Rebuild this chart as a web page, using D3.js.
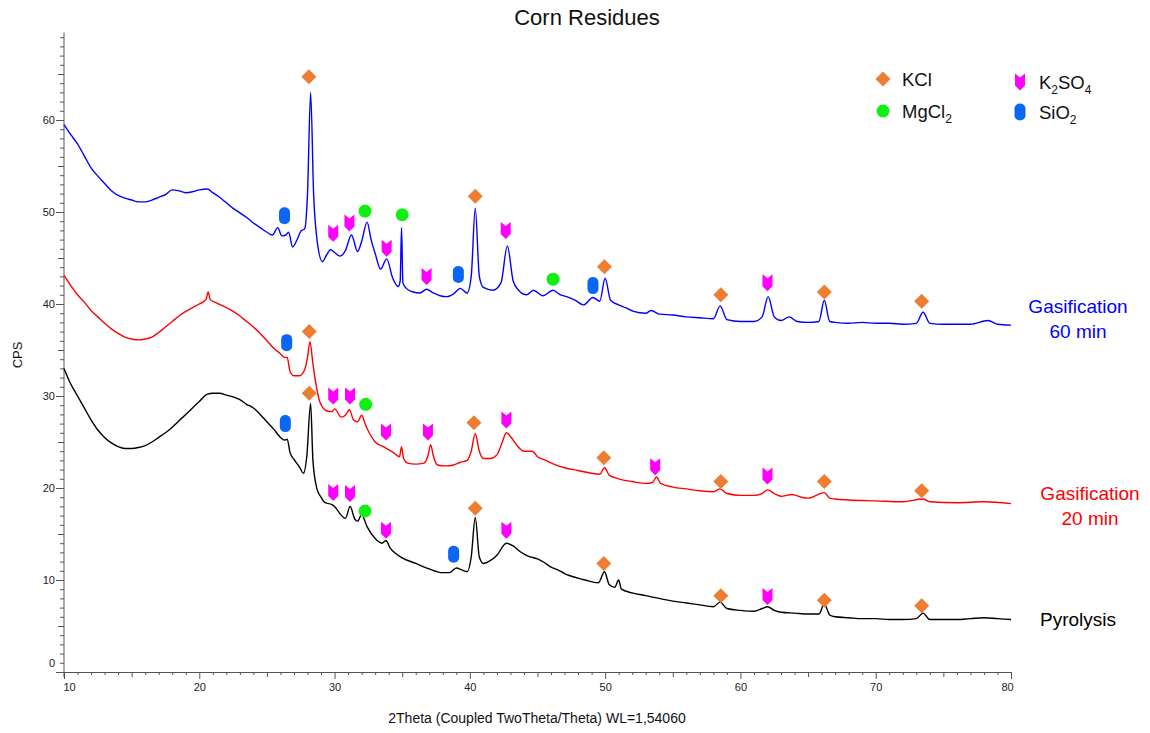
<!DOCTYPE html>
<head>
<meta charset="utf-8">
<script src="https://cdn.jsdelivr.net/npm/d3@7"></script>
<style>
body { margin: 0; background: #fff; font-family: "Liberation Sans", Arial, sans-serif; }
svg text { font-family: "Liberation Sans", Arial, sans-serif; }
.axis path, .axis line { stroke: #555; }
.axis text { font-size: 11px; fill: #222; }
</style>
</head>
<body>
<svg width="1150" height="733"></svg>
<script>
// 2theta (deg) vs CPS
var gas60 = [[10,59.5],[10.5,58.4],[11,57.4],[11.5,56.1],[12,54.8],[12.5,53.9],[13,53.1],[13.5,52.3],[14,51.8],[14.5,51.5],[15,51.3],[15.5,51.1],[16,51.1],[16.5,51.3],[17,51.6],[17.5,51.9],[18,52.4],[18.5,52.3],[19,52.1],[19.5,52.2],[20,52.4],[20.6,52.5],[21,52.1],[21.5,51.6],[22,51.0],[22.5,50.4],[23,49.9],[23.5,49.4],[24,48.8],[24.5,48.3],[25,47.8],[25.4,47.5],[25.8,48.3],[26.1,47.4],[26.4,47.5],[26.6,47.8],[26.9,46.2],[27.2,46.9],[27.5,47.9],[27.8,48.2],[28.0,52],[28.23,63.0],[28.45,52],[28.7,47.0],[29.1,44.6],[29.4,45.3],[29.7,45.9],[30.0,45.6],[30.4,45.2],[30.8,45.8],[31.25,47.5],[31.7,45.7],[32.0,46.8],[32.4,48.9],[32.7,47.0],[33.0,45.5],[33.4,43.8],[33.85,44.9],[34.3,42.8],[34.7,41.9],[34.85,42.5],[34.95,48.3],[35.05,42.3],[35.3,41.7],[35.8,41.3],[36.3,41.2],[36.8,41.6],[37.3,41.2],[37.8,40.9],[38.3,40.8],[38.8,41.1],[39.3,41.7],[39.8,41.2],[40.1,43],[40.4,50.4],[40.7,43],[41.0,41.8],[41.7,41.5],[42.3,42.3],[42.77,46.3],[43.2,42.5],[43.6,41.5],[44.2,41.0],[44.7,41.5],[45.4,40.9],[46.15,41.5],[46.7,41.0],[47.15,40.8],[47.8,40.4],[48.4,39.9],[49.1,40.7],[49.6,40.3],[50.0,42.8],[50.4,40.4],[51.0,39.9],[51.5,39.6],[52.1,39.2],[53.0,39.0],[53.4,39.3],[54,38.9],[55,38.8],[56,38.6],[57,38.5],[58,38.4],[58.5,39.8],[59,38.3],[60,38.1],[61,38.1],[61.6,38.6],[62.05,40.8],[62.5,38.6],[63,38.2],[63.6,38.6],[64.2,38.1],[65,38.0],[65.8,38.1],[66.2,40.4],[66.6,38.1],[67,38.0],[68,37.9],[69,38.0],[70,37.9],[71,37.9],[72,37.8],[73,37.9],[73.5,39.1],[74,37.9],[75,37.8],[76,37.8],[77,37.8],[78.3,38.2],[79,37.8],[80,37.7]];

var gas20 = [[10,43.1],[10.5,42.0],[11,41.0],[11.5,40.2],[12,39.3],[12.5,38.6],[13,37.9],[13.5,37.3],[14,36.8],[14.5,36.4],[15,36.2],[15.5,36.1],[16,36.2],[16.5,36.4],[17,36.9],[17.5,37.5],[18,38.1],[18.5,38.7],[19,39.2],[19.5,39.6],[20,40.0],[20.5,40.5],[20.66,41.3],[20.8,40.5],[21.3,40.1],[22,39.6],[22.5,39.2],[23,38.7],[23.5,38.1],[24,37.5],[24.5,36.8],[25,36.0],[25.5,35.2],[26,34.6],[26.3,34.2],[26.5,34.2],[26.7,32.7],[27.0,32.2],[27.4,32.2],[27.8,32.9],[28.0,34.2],[28.18,35.9],[28.4,33.5],[28.6,31.5],[28.9,29.4],[29.4,28.4],[29.8,28.3],[30.0,28.6],[30.5,27.7],[30.8,27.9],[31.1,28.5],[31.4,27.4],[31.7,27.2],[32.0,27.9],[32.3,26.8],[32.6,25.9],[33.0,25.0],[33.6,24.5],[34.3,23.9],[34.8,23.4],[34.95,24.5],[35.1,23.2],[35.4,22.7],[36.0,22.6],[36.6,22.7],[36.9,23.5],[37.1,24.7],[37.3,23.5],[37.6,22.5],[38.2,22.4],[38.8,22.5],[39.3,22.8],[39.8,23.0],[40.1,24],[40.4,25.9],[40.7,24.0],[41.0,23.2],[41.5,23.2],[42.0,23.6],[42.4,25.0],[42.7,26.0],[43.0,25.6],[43.5,24.6],[44.0,24.0],[44.6,24.0],[45.0,23.4],[45.6,23.0],[46.2,22.6],[47.0,22.2],[48.0,21.9],[49.0,21.6],[49.6,21.5],[49.95,22.2],[50.3,21.4],[51,21.0],[52,20.7],[53,20.5],[53.5,20.6],[53.8,21.2],[54.1,20.5],[55,20.1],[56,19.9],[57,19.7],[58,19.6],[58.5,19.9],[59,19.4],[60,19.2],[61,19.2],[61.6,19.4],[62.0,19.8],[62.5,19.4],[63,19.1],[63.8,19.3],[64.5,19.0],[65,18.9],[66.2,19.5],[66.6,18.9],[67,18.8],[68,18.7],[70,18.6],[72,18.5],[73.5,18.8],[74,18.5],[76,18.4],[78,18.5],[80,18.3]];

var pyro = [[10,33.0],[10.5,31.3],[11,30.0],[11.5,28.7],[12,27.4],[12.5,26.3],[13,25.5],[13.5,24.9],[14,24.5],[14.5,24.3],[15,24.3],[15.5,24.4],[16,24.6],[16.5,25.0],[17,25.5],[17.5,26.0],[18,26.6],[18.5,27.3],[19,28.0],[19.5,28.7],[20,29.4],[20.6,30.2],[21,30.3],[21.5,30.3],[22,30.1],[22.5,29.9],[23,29.6],[23.5,29.1],[24,28.7],[24.5,28.0],[25,27.2],[25.5,26.4],[26,25.5],[26.3,25.2],[26.5,25.3],[26.7,23.9],[27.0,23.1],[27.4,22.3],[27.7,21.6],[27.95,23.5],[28.23,29.2],[28.4,23],[28.7,19.9],[29.0,19.0],[29.3,18.4],[29.8,18.2],[30.0,18.0],[30.35,17.3],[30.8,16.7],[31.15,18.0],[31.5,16.6],[31.7,16.4],[32.0,17.1],[32.4,15.8],[33.0,14.5],[33.5,14.0],[33.8,14.3],[34.1,13.5],[34.5,12.9],[35,12.4],[36,11.8],[37,11.2],[38,10.8],[38.5,10.8],[39.0,11.3],[39.4,11.1],[39.8,10.9],[40.1,12.5],[40.4,16.8],[40.7,12.5],[41.0,11.8],[41.5,12.1],[42.0,12.7],[42.7,14.0],[43.2,13.7],[43.7,13.1],[44.3,12.6],[45,12.3],[45.5,11.9],[46,11.4],[46.5,11.1],[47,10.7],[48,10.2],[48.5,10.0],[49.5,9.7],[49.95,10.9],[50.3,9.5],[50.7,9.2],[51.0,10.0],[51.2,9.0],[52,8.6],[53,8.3],[54,8.0],[55,7.7],[56,7.5],[57,7.3],[58,7.1],[58.5,7.6],[59,6.9],[60,6.7],[61,6.6],[61.6,6.9],[62.0,7.1],[62.5,6.7],[63,6.5],[64,6.4],[65,6.3],[65.8,6.3],[66.2,7.4],[66.6,6.2],[67,6.0],[68,5.9],[69,5.8],[70,5.8],[71,5.7],[72,5.7],[73,5.8],[73.5,6.4],[74,5.7],[75,5.7],[76,5.7],[77,5.8],[78,5.9],[79,5.8],[80,5.7]];

// phase markers [2theta, cps]
var kclMarks = [[28.1,64.7],[40.4,51.7],[49.95,44.05],[58.55,41.0],[66.2,41.3],[73.4,40.3],
                [28.13,37.0],[40.3,27.1],[49.9,23.3],[58.55,20.7],[66.2,20.7],[73.4,19.7],
                [28.13,30.3],[40.4,17.8],[49.9,11.8],[58.55,8.3],[66.2,7.8],[73.4,7.2]];
var k2so4Marks = [[29.9,47.7],[31.1,48.8],[33.85,46.05],[36.8,43.0],[42.65,48.0],[62.0,42.3],
                  [29.9,30.0],[31.14,30.0],[33.8,26.1],[36.9,26.1],[42.7,27.4],[53.7,22.3],[62.0,21.3],
                  [29.9,19.5],[31.14,19.4],[33.8,15.4],[42.7,15.4],[62.0,8.2]];
var mgcl2Marks = [[32.25,50.1],[35.0,49.7],[46.15,42.7],[32.3,29.1],[32.25,17.5]];
var sio2Marks = [[26.3,49.6],[39.15,43.2],[49.1,42.0],[26.46,35.8],[26.36,27.0],[38.8,12.8]];

var svg = d3.select("svg");

var x = d3.scaleLinear().domain([10, 80]).range([64, 1011]);
var y = d3.scaleLinear().domain([0, 69.5]).range([672, 32.6]);

// marker shapes
var diamond = "M0,-7.5L7.5,0L0,7.5L-7.5,0Z";
var chevron = "M-5,-8.5L0,-4.5L5,-8.5L5,3.5L0,8.5L-5,3.5Z";

function drawMarker(g, type) {
  if (type == "kcl") g.append("path").attr("d", diamond).attr("fill", "#ED7D31");
  else if (type == "k2so4") g.append("path").attr("d", chevron).attr("fill", "#FF00FF");
  else if (type == "mgcl2") g.append("circle").attr("r", 6.5).attr("fill", "#11EE11");
  else g.append("rect").attr("x", -5.5).attr("y", -8.5).attr("width", 11).attr("height", 17)
        .attr("rx", 5.5).attr("ry", 5).attr("fill", "#0A66F5");
}

// axes
var xAxis = svg.append("g").attr("class", "axis")
  .attr("transform", "translate(0," + y(0) + ")")
  .call(d3.axisBottom(x).tickValues(d3.range(10, 81, 1)).tickSizeOuter(0)
    .tickFormat(function(d) { return d % 10 == 0 ? d : ""; }));
xAxis.selectAll(".tick line").attr("y2", function(d) { return d % 10 == 0 ? 7 : (d % 5 == 0 ? 5 : 3); });
xAxis.selectAll(".tick text").attr("y", 11)
  .attr("dx", function(d) { return d == 10 ? 5 : (d == 80 ? -4 : 0); });

var yAxis = svg.append("g").attr("class", "axis")
  .attr("transform", "translate(" + x(10) + ",0)")
  .call(d3.axisLeft(y).tickValues(d3.range(0, 70, 1)).tickSizeOuter(0)
    .tickFormat(function(d) { return d % 10 == 0 ? d : ""; }));
yAxis.select(".domain").attr("d", "M0," + y(69.5) + "V" + (y(0) + 5));
yAxis.selectAll(".tick line").attr("x2", function(d) { return d % 10 == 0 ? -8 : (d % 5 == 0 ? -6 : -4); });
yAxis.selectAll(".tick text").attr("x", -9)
  .attr("dy", function(d) { return d == 0 ? "-0.5em" : "0.32em"; });

// curves
var line = d3.line()
  .x(function(d) { return x(d[0]); })
  .y(function(d) { return y(d[1]); })
  .curve(d3.curveMonotoneX);

var series = [
  { data: pyro, color: "#000000" },
  { data: gas20, color: "#FF0000" },
  { data: gas60, color: "#0000FF" }
];
svg.append("g").selectAll("path")
  .data(series)
  .enter().append("path")
  .attr("d", function(d) { return line(d.data); })
  .attr("fill", "none")
  .attr("stroke", function(d) { return d.color; })
  .attr("stroke-width", 1.4)
  .attr("stroke-linejoin", "round");

// phase markers
var markSets = [["kcl", kclMarks], ["k2so4", k2so4Marks], ["mgcl2", mgcl2Marks], ["sio2", sio2Marks]];
markSets.forEach(function(m) {
  svg.append("g").selectAll("g")
    .data(m[1])
    .enter().append("g")
    .attr("transform", function(d) { return "translate(" + x(d[0]) + "," + y(d[1]) + ")"; })
    .each(function() { drawMarker(d3.select(this), m[0]); });
});

// legend
var legend = [
  { type: "kcl", px: 883, py: 79, parts: [["KCl", 0]] },
  { type: "k2so4", px: 1020, py: 82, parts: [["K", 0], ["2", 1], ["SO", 0], ["4", 1]] },
  { type: "mgcl2", px: 883, py: 111, parts: [["MgCl", 0], ["2", 1]] },
  { type: "sio2", px: 1020, py: 112, parts: [["SiO", 0], ["2", 1]] }
];
legend.forEach(function(l) {
  var g = svg.append("g").attr("transform", "translate(" + l.px + "," + l.py + ")");
  drawMarker(g, l.type);
  var t = g.append("text").attr("x", 19).attr("y", 7).attr("font-size", 18.5).attr("fill", "#111");
  l.parts.forEach(function(p) {
    var s = t.append("tspan").text(p[0]);
    if (p[1]) s.attr("font-size", 12).attr("dy", 5);
    else if (t.selectAll("tspan").size() > 1) s.attr("dy", -5);
  });
});

// series labels
var labels = [
  { lines: ["Gasification", "60 min"], color: "#0000FF", cx: 1078, by: 313 },
  { lines: ["Gasification", "20 min"], color: "#FF0000", cx: 1090, by: 500 },
  { lines: ["Pyrolysis"], color: "#000000", cx: 1078, by: 626 }
];
labels.forEach(function(l) {
  l.lines.forEach(function(s, i) {
    svg.append("text").attr("x", l.cx).attr("y", l.by + i * 24.5)
      .attr("text-anchor", "middle").attr("font-size", 19).attr("fill", l.color).text(s);
  });
});

// titles
svg.append("text").attr("x", 587).attr("y", 25).attr("text-anchor", "middle")
  .attr("font-size", 22).attr("fill", "#111").text("Corn Residues");
svg.append("text").attr("x", 537).attr("y", 723).attr("text-anchor", "middle")
  .attr("font-size", 14).attr("fill", "#111").text("2Theta (Coupled TwoTheta/Theta) WL=1,54060");
svg.append("text").attr("transform", "translate(22,355) rotate(-90)").attr("text-anchor", "middle")
  .attr("font-size", 13).attr("fill", "#111").text("CPS");
</script>
</body>
